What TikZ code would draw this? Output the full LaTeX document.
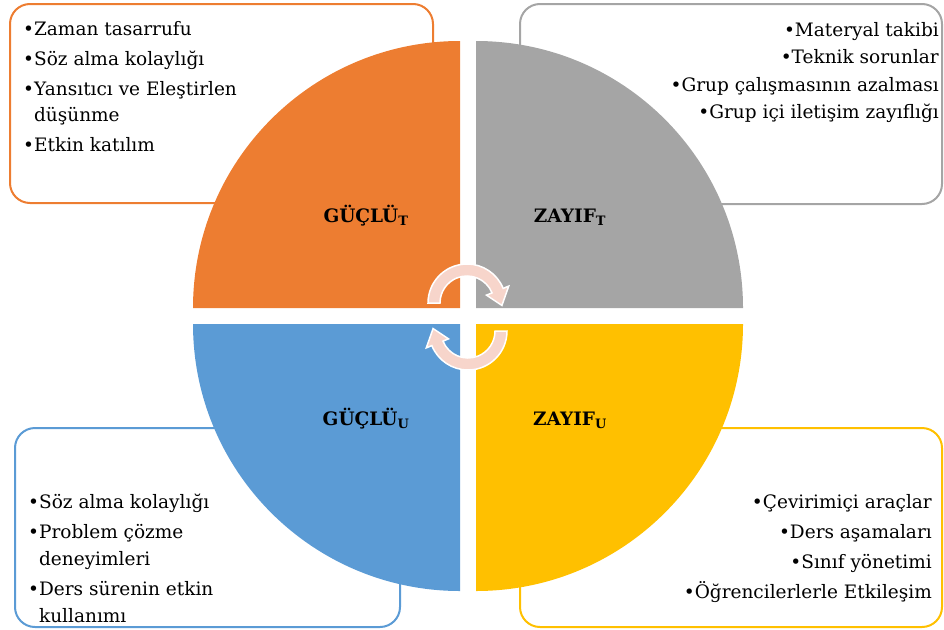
\documentclass[tikz,border=0pt]{standalone}
\usepackage{fontspec}
\setmainfont{DejaVu Serif}
\usepackage{tikz}
\definecolor{cOr}{HTML}{ED7D31}
\definecolor{cGr}{HTML}{A5A5A5}
\definecolor{cBl}{HTML}{5B9BD5}
\definecolor{cYe}{HTML}{FFC000}
\definecolor{cArr}{HTML}{F7D5CB}
\begin{document}
\begin{tikzpicture}[x=1pt,y=-1pt,
  txt/.style={inner sep=0pt, font=\fontsize{18.5}{22}\selectfont},
  lbl/.style={inner sep=0pt, font=\bfseries\fontsize{18.5}{22}\selectfont},
  boxline/.style={line width=2pt, rounded corners=20pt},
  cyc/.style={fill=cArr, draw=white, line width=1.5pt}]
\useasboundingbox (0,0) rectangle (944,629);
% text boxes (behind the circle)
\draw[boxline, draw=cOr] (10,4) rectangle (433,203);
\draw[boxline, draw=cGr] (520,4) rectangle (942,204);
\draw[boxline, draw=cBl] (15,428) rectangle (400,627);
\draw[boxline, draw=cYe] (520,428) rectangle (942,627);
% quadrants
\fill[cOr] (460,308) -- (193,308) arc[start angle=180,end angle=270,radius=267] -- cycle;
\fill[cGr] (476,308) -- (476,41) arc[start angle=270,end angle=360,radius=267] -- cycle;
\fill[cBl] (460,324) -- (193,324) arc[start angle=180,end angle=90,radius=267] -- cycle;
\fill[cYe] (476,324) -- (743,324) arc[start angle=0,end angle=90,radius=267] -- cycle;
% cycle arrows
\begin{scope}[shift={(467,303)}, yscale=-1]
  \draw[cyc] (180:39) arc[start angle=180,end angle=22,radius=39] -- (22:45) -- (-4:35) -- (22:21) -- (22:27) arc[start angle=22,end angle=180,radius=27] -- cycle;
\end{scope}
\begin{scope}[shift={(468,331)}, yscale=-1, rotate=180]
  \draw[cyc] (180:39) arc[start angle=180,end angle=22,radius=39] -- (22:45) -- (-4:35) -- (22:21) -- (22:27) arc[start angle=22,end angle=180,radius=27] -- cycle;
\end{scope}
% quadrant labels
\node[lbl, anchor=base] (lgt) at (366,222) {GÜÇLÜ\textsubscript{T}};
\node[lbl, anchor=base] (lzt) at (570,222) {ZAYIF\textsubscript{T}};
\node[lbl, anchor=base] (lgu) at (366,425) {GÜÇLÜ\textsubscript{U}};
\node[lbl, anchor=base] (lzu) at (570,425) {ZAYIF\textsubscript{U}};
% orange box text
\node[txt, anchor=base west] (o1) at (23,35) {•Zaman tasarrufu};
\node[txt, anchor=base west] (o2) at (23,65) {•Söz alma kolaylığı};
\node[txt, anchor=base west] (o3) at (23,95) {•Yansıtıcı ve Eleştirlen};
\node[txt, anchor=base west] (o4) at (23,121) {\phantom{•}düşünme};
\node[txt, anchor=base west] (o5) at (23,151) {•Etkin katılım};
% gray box text
\node[txt, anchor=base east] (g1) at (939,36) {•Materyal takibi};
\node[txt, anchor=base east] (g2) at (939,63) {•Teknik sorunlar};
\node[txt, anchor=base east] (g3) at (939,91) {•Grup çalışmasının azalması};
\node[txt, anchor=base east] (g4) at (939,118) {•Grup içi iletişim zayıflığı};
% blue box text
\node[txt, anchor=base west] (b1) at (28,508) {•Söz alma kolaylığı};
\node[txt, anchor=base west] (b2) at (28,538) {•Problem çözme};
\node[txt, anchor=base west] (b3) at (28,565) {\phantom{•}deneyimleri};
\node[txt, anchor=base west] (b4) at (28,595) {•Ders sürenin etkin};
\node[txt, anchor=base west] (b5) at (28,622) {\phantom{•}kullanımı};
% yellow box text
\node[txt, anchor=base east] (y1) at (932,508) {•Çevirimiçi araçlar};
\node[txt, anchor=base east] (y2) at (932,538) {•Ders aşamaları};
\node[txt, anchor=base east] (y3) at (932,568) {•Sınıf yönetimi};
\node[txt, anchor=base east] (y4) at (932,598) {•Öğrencilerlerle Etkileşim};
\end{tikzpicture}
\end{document}
